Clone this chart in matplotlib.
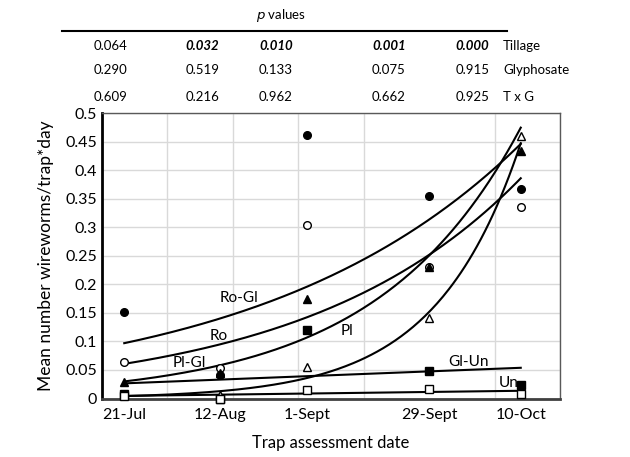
import numpy as np
import matplotlib
matplotlib.use("Agg")
import matplotlib.pyplot as plt

plt.rcParams['font.family'] = ['Lato', 'DejaVu Sans']

# trap assessment dates (numeric axis position) and labels
dates = ['21-Jul', '12-Aug', '1-Sept', '29-Sept', '10-Oct']
x = np.array([17, 90, 157, 250, 320])

# mean wireworms per trap per day for each treatment
ro_gl = [0.151, 0.041, 0.461, 0.355, 0.367]
ro = [0.064, 0.053, 0.304, 0.230, 0.335]
pl_gl = [0.029, 0.044, 0.174, 0.230, 0.433]
pl = [0.0057, 0.0064, 0.055, 0.141, 0.460]
gl_un = [0.008, 0.0, 0.120, 0.048, 0.024]
un = [0.005, 0.0, 0.015, 0.017, 0.008]

# p values per date
p_tillage = ['0.064', '0.032', '0.010', '0.001', '0.000']
p_glyph = ['0.290', '0.519', '0.133', '0.075', '0.915']
p_txg = ['0.609', '0.216', '0.962', '0.662', '0.925']
row_names = ['Tillage', 'Glyphosate', 'T x G']

series = [
    # name, values, marker, filled, trend type, label position
    ('Ro-Gl', ro_gl, 'o', True, 'exp', (105, 0.176)),
    ('Ro', ro, 'o', False, 'exp', (89, 0.109)),
    ('Pl-Gl', pl_gl, '^', True, 'exp', (67, 0.062)),
    ('Pl', pl, '^', False, 'exp', (187, 0.118)),
    ('Gl-Un', gl_un, 's', True, 'lin', (280, 0.064)),
    ('Un', un, 's', False, 'lin', (311, 0.027)),
]

fig = plt.figure(figsize=(6.3, 4.57), dpi=100)
ax = fig.add_axes([0.1619, 0.128, 0.727, 0.6247])

xs = np.linspace(x[0], x[-1], 200)
for name, vals, mk, filled, kind, (lx, ly) in series:
    vals = np.array(vals)
    if kind == 'exp':
        b, a = np.polyfit(x, np.log(vals), 1)
        ys = np.exp(a + b * xs)
    else:
        b, a = np.polyfit(x, vals, 1)
        ys = a + b * xs
    ax.plot(xs, ys, color='black', lw=1.5, zorder=3)
    ax.plot(x, vals, linestyle='none', marker=mk, ms=5.5,
            mfc='black' if filled else 'white', mec='black', mew=1,
            clip_on=False, zorder=4)
    ax.text(lx, ly, name, ha='center', va='center', fontsize=11, zorder=5)

ax.set_xlim(0, 350)
ax.set_ylim(0, 0.5)
ax.set_xticks(np.arange(0, 351, 50), minor=True)
ax.set_xticks(x)
ax.set_xticklabels(dates, fontsize=11.5)
ax.set_yticks(np.arange(0, 0.501, 0.05))
ax.set_yticklabels(['0', '0.05', '0.1', '0.15', '0.2', '0.25', '0.3',
                    '0.35', '0.4', '0.45', '0.5'], fontsize=11.5)
ax.tick_params(axis='both', which='both', length=0)
ax.tick_params(axis='x', pad=7)
ax.grid(True, axis='y', color='#d9d9d9', lw=1)
ax.grid(True, axis='x', which='minor', color='#d9d9d9', lw=1)
ax.grid(False, axis='x', which='major')
ax.set_axisbelow(True)

ax.spines['left'].set_color('black')
ax.spines['left'].set_linewidth(2)
ax.spines['bottom'].set_color('#404040')
ax.spines['bottom'].set_linewidth(2)
for s in ('top', 'right'):
    ax.spines[s].set_color('#595959')
    ax.spines[s].set_linewidth(1)

ax.set_xlabel('Trap assessment date', fontsize=12, labelpad=9)
ax.set_ylabel('Mean number wireworms/trap*day', fontsize=12.5, labelpad=8)

# p value table above the chart
W, H = 630, 457
col_x = [110.5, 202.5, 276, 389, 472.5]
row_y = [46, 70, 97]
rows = [p_tillage, p_glyph, p_txg]
for r, (vals, rname) in enumerate(zip(rows, row_names)):
    for c, v in enumerate(vals):
        bold = r == 0 and float(v) < 0.05
        fig.text(col_x[c] / W, 1 - row_y[r] / H, v, ha='center', va='center',
                 fontsize=9.5, fontweight='bold' if bold else 'normal',
                 fontstyle='italic' if bold else 'normal')
    fig.text(503 / W, 1 - row_y[r] / H, rname, ha='left', va='center', fontsize=9.5)

fig.text(281 / W, 1 - 15 / H, r'$\it{p}$ values', ha='center', va='center', fontsize=9.5)
fig.add_artist(plt.Line2D([62 / W, 507 / W], [1 - 31 / H, 1 - 31 / H],
                          color='black', lw=1.5))

fig.savefig('out.png', dpi=100)
